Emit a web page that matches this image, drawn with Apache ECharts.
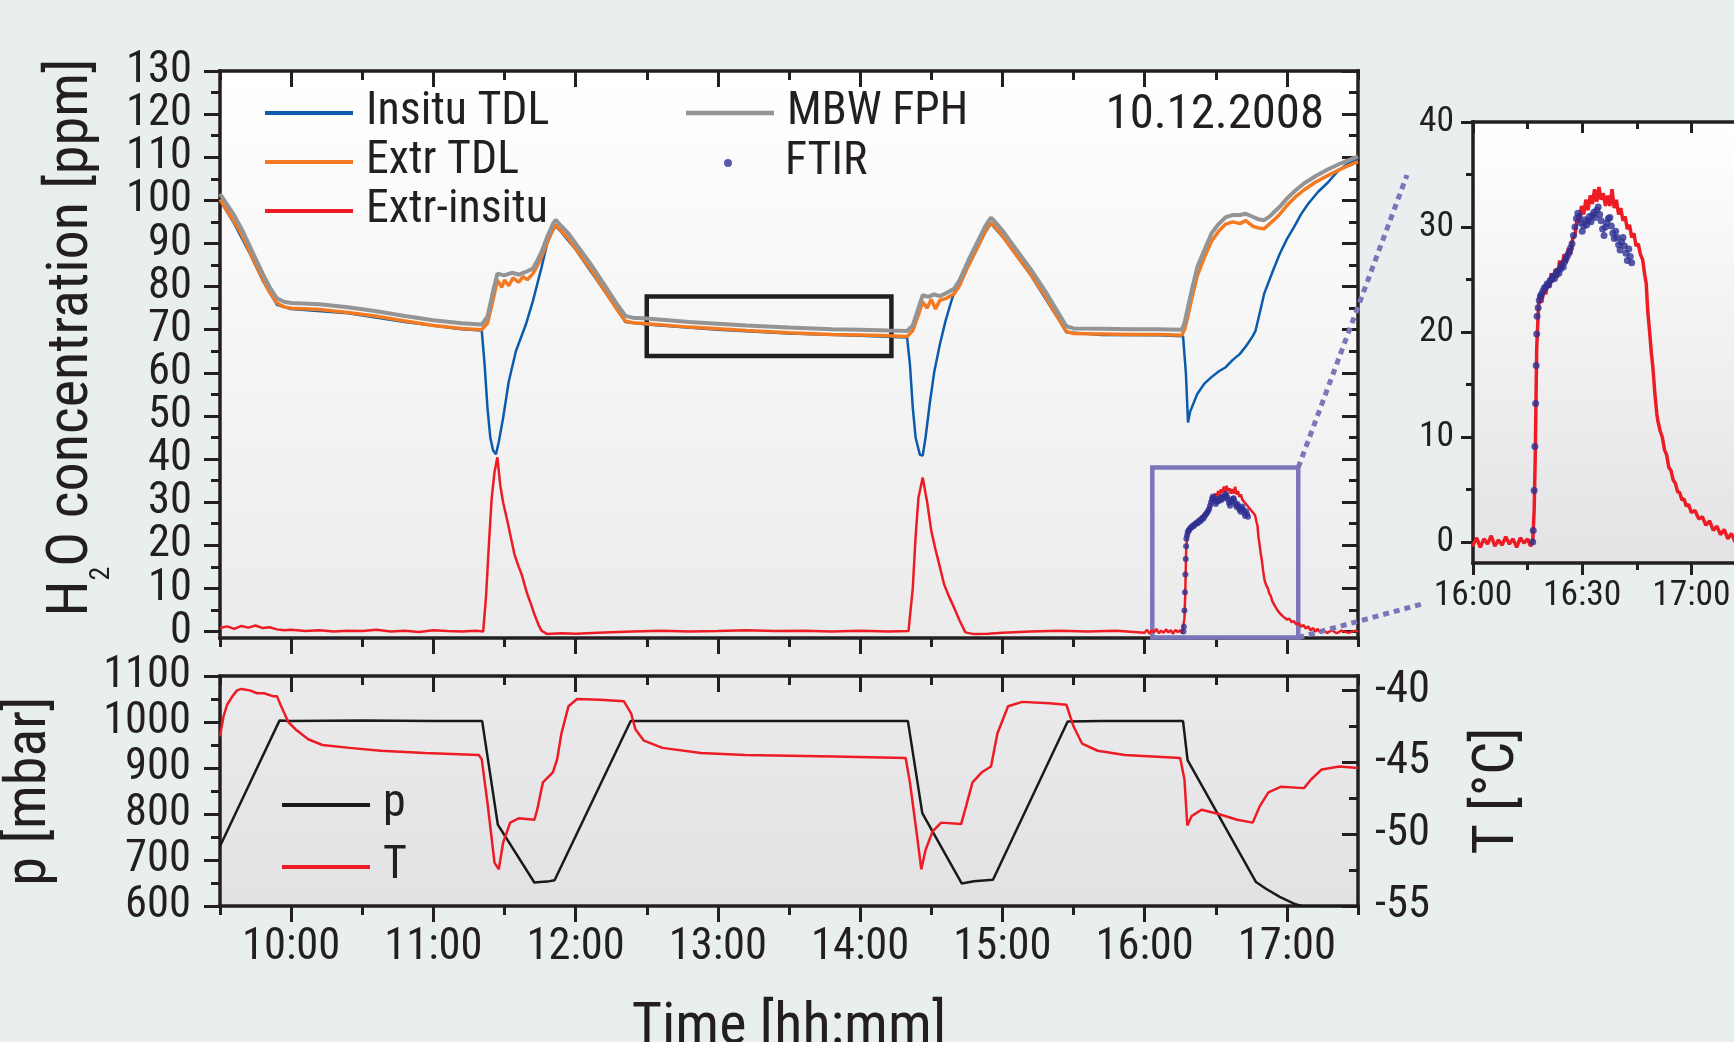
<!DOCTYPE html>
<html><head><meta charset="utf-8">
<script src="https://cdn.jsdelivr.net/npm/echarts@6/dist/echarts.min.js"></script>
<style>html,body{margin:0;padding:0;background:#e9efee;}#c{width:1734px;height:1042px;}</style>
</head><body><div id="c"></div>
<script>
// ---------------- DATA (time in decimal hours) ----------------
const insituTDL = [[9.5,100.0],[9.6,94.6],[9.7,88.3],[9.8,81.4],[9.9,75.8],[10.0,74.8],[10.4,73.8],[10.8,71.8],[11.2,70.1],[11.34,69.8],[11.36,62],[11.38,52],[11.40,45],[11.42,42],[11.44,41.1],[11.46,44],[11.49,49.5],[11.53,58],[11.58,65],[11.65,71.2],[11.70,76.7],[11.76,84.4],[11.8,90.0],[11.84,93.0],[11.86,94.0],[11.9,92.6],[12.0,88.6],[12.2,79.1],[12.35,71.8],[12.5,71.2],[13.0,70.0],[13.5,69.1],[14.0,68.6],[14.33,68.2],[14.35,62],[14.37,52],[14.39,45],[14.42,41],[14.44,40.8],[14.46,45],[14.49,53],[14.52,60],[14.56,66.5],[14.6,72],[14.64,76.5],[14.68,80.5],[14.72,83],[14.76,84.6],[14.82,88.6],[14.88,92.6],[14.92,94.6],[15.0,91.6],[15.2,82.6],[15.4,72.1],[15.45,69.4],[15.7,68.8],[16.1,68.7],[16.27,68.5],[16.29,60],[16.305,48.5],[16.32,51],[16.37,55.1],[16.42,57.5],[16.47,59.0],[16.52,60.3],[16.57,61.3],[16.62,63.0],[16.67,64.4],[16.72,66.5],[16.76,68.5],[16.78,69.8],[16.81,74],[16.84,78.3],[16.9,83.5],[16.95,87.6],[17.0,91.0],[17.05,93.8],[17.1,96.8],[17.15,99.2],[17.22,102],[17.29,104.2],[17.35,106.5],[17.42,108.3],[17.5,109.6]];

const extrTDL = [[9.5,100.2],[9.55,97.6],[9.6,95.0],[9.65,92.2],[9.7,88.7],[9.75,85.2],[9.8,81.8],[9.85,78.6],[9.9,76.2],[9.95,75.3],[10.0,75.0],[10.2,74.7],[10.4,74.0],[10.6,73.1],[10.8,72.0],[11.0,71.0],[11.2,70.3],[11.34,70.0],[11.38,71.5],[11.42,77],[11.45,81.5],[11.48,79.8],[11.5,81.5],[11.53,80.2],[11.56,82.0],[11.6,81.0],[11.63,82.3],[11.66,81.6],[11.7,83.0],[11.73,84.8],[11.76,86.8],[11.8,90.3],[11.84,93.3],[11.86,94.3],[11.9,92.8],[11.95,91.1],[12.0,88.8],[12.1,84.3],[12.2,79.3],[12.3,74.3],[12.35,72.0],[12.4,71.6],[12.5,71.4],[12.8,70.6],[13.0,70.2],[13.2,69.8],[13.5,69.3],[13.8,68.9],[14.0,68.8],[14.2,68.6],[14.33,68.4],[14.37,69.8],[14.41,73.5],[14.44,76.5],[14.47,75.0],[14.5,77.0],[14.53,74.8],[14.56,76.8],[14.6,77.2],[14.66,78.3],[14.7,80.3],[14.76,84.8],[14.82,88.8],[14.88,92.8],[14.92,94.8],[14.95,93.8],[15.0,91.8],[15.1,87.3],[15.2,82.8],[15.3,77.8],[15.4,72.3],[15.45,69.6],[15.5,69.1],[15.7,69.0],[15.9,68.9],[16.1,68.9],[16.26,68.7],[16.28,70.0],[16.30,72.5],[16.33,77.0],[16.37,82.5],[16.42,86.8],[16.47,90.5],[16.52,92.8],[16.57,94.5],[16.62,95.0],[16.67,94.6],[16.71,95.3],[16.76,94.0],[16.8,93.6],[16.84,93.4],[16.88,94.6],[16.92,95.8],[16.95,96.8],[17.0,98.8],[17.06,100.8],[17.12,102.4],[17.2,104.2],[17.29,105.8],[17.38,107.3],[17.45,108.3],[17.5,109.0]];

const mbwFPH = [[9.5,101.5],[9.55,99],[9.6,96.5],[9.65,93.5],[9.7,90],[9.75,86.5],[9.8,83],[9.85,79.8],[9.9,77.3],[9.95,76.5],[10.0,76.2],[10.2,75.9],[10.4,75.2],[10.6,74.3],[10.8,73.2],[11.0,72.2],[11.2,71.5],[11.34,71.2],[11.38,73],[11.42,79],[11.45,83],[11.5,82.6],[11.55,83.2],[11.6,82.8],[11.65,83.4],[11.7,84.2],[11.73,86],[11.76,88],[11.8,91.5],[11.84,94.5],[11.86,95.5],[11.9,94],[11.95,92.3],[12.0,90],[12.1,85.5],[12.2,80.5],[12.3,75.5],[12.35,73.2],[12.4,72.8],[12.5,72.6],[12.8,71.8],[13.0,71.4],[13.2,71.0],[13.5,70.5],[13.8,70.1],[14.0,70.0],[14.2,69.8],[14.33,69.7],[14.37,71],[14.41,75],[14.44,78],[14.48,77.6],[14.52,78.2],[14.56,77.8],[14.6,78.4],[14.66,79.5],[14.7,81.5],[14.76,86],[14.82,90],[14.88,94],[14.92,96],[14.95,95],[15.0,93],[15.1,88.5],[15.2,84],[15.3,79],[15.4,73.5],[15.45,70.8],[15.5,70.3],[15.7,70.2],[15.9,70.1],[16.1,70.1],[16.26,70.0],[16.28,71.5],[16.30,74.5],[16.33,79],[16.37,84.5],[16.42,88.5],[16.47,92.3],[16.52,94.5],[16.57,96.1],[16.62,96.6],[16.67,96.6],[16.71,96.9],[16.76,96.2],[16.8,95.6],[16.84,95.4],[16.88,96.3],[16.92,97.6],[16.95,98.5],[17.0,100.4],[17.06,102.3],[17.12,103.9],[17.2,105.6],[17.29,107.2],[17.38,108.6],[17.45,109.5],[17.5,110.2]];

// Extr-insitu before 16:00 (hours)
const extrInsituDay = [[9.5,0.8],[9.55,1.2],[9.6,0.6],[9.65,1.3],[9.7,0.9],[9.75,1.4],[9.8,0.8],[9.85,1.0],[9.9,0.5],[9.95,0.3],[10.0,0.4],[10.1,0.1],[10.2,0.3],[10.3,0.0],[10.4,0.2],[10.5,0.1],[10.6,0.4],[10.7,0.0],[10.8,0.2],[10.9,-0.1],[11.0,0.3],[11.1,0.1],[11.2,0.0],[11.3,0.2],[11.35,0.0],[11.37,8],[11.39,20],[11.41,31],[11.43,37],[11.45,40.4],[11.47,34],[11.49,30],[11.52,25.7],[11.55,21],[11.57,17.9],[11.6,15],[11.62,13.3],[11.64,11],[11.66,8.7],[11.69,6],[11.71,4.0],[11.74,1.5],[11.76,0.2],[11.8,-0.6],[11.9,-0.4],[12.0,-0.5],[12.2,-0.2],[12.4,0.0],[12.6,0.2],[12.8,0.0],[13.0,0.1],[13.2,0.3],[13.4,0.1],[13.6,0.2],[13.8,0.0],[14.0,0.2],[14.2,0.0],[14.34,0.1],[14.37,10],[14.39,22],[14.41,31],[14.44,35.7],[14.46,32],[14.47,30.3],[14.5,23.4],[14.53,19],[14.55,16.4],[14.59,11],[14.62,8.5],[14.65,6.3],[14.7,2.5],[14.74,-0.2],[14.8,-0.6],[14.9,-0.5],[15.0,-0.3],[15.2,0.0],[15.4,0.2],[15.6,0.0],[15.8,0.2]];
// Extr-insitu after 16:00 (minutes after 16:00)
const extrInsituLateMin = [[0,-0.3],[1,0.4],[2,-0.5],[3,0.3],[4,-0.2],[5,0.6],[6,-0.4],[7,0.2],[8,-0.3],[9,0.5],[10,-0.2],[11,0.3],[12,-0.5],[13,0.4],[14,-0.1],[15,0.3],[15.8,-0.4],[16.4,0.0],[16.8,3.0],[17.1,8.1],[17.5,18.4],[18.0,22.5],[18.5,23.6],[18.9,22.8],[19.5,24.2],[20,23.6],[20.5,24.8],[21,24.2],[21.5,25.6],[22,24.8],[22.6,26.0],[23.2,25.2],[23.8,26.8],[24.4,25.9],[25,27.4],[25.6,26.6],[26.2,28.0],[26.8,27.4],[27.4,28.9],[28,29.2],[28.6,30.8],[29.2,30.4],[29.8,32.0],[30.4,31.2],[31,32.6],[31.6,31.6],[32.2,33.0],[32.8,32.2],[33.4,33.6],[34,32.4],[34.6,33.8],[35.2,32.6],[35.8,33.2],[36.4,32.0],[37,33.0],[37.6,32.0],[38.2,33.6],[38.8,31.8],[39.4,32.6],[40,31.2],[40.6,31.8],[41.2,30.6],[41.8,31.0],[42.4,29.8],[43,30.2],[43.6,29.0],[44.2,29.4],[44.8,28.2],[45.4,28.4],[46,27.4],[46.6,26.9],[47.2,25.4],[47.6,24.6],[48.0,22.0],[48.5,20.1],[49.0,18.0],[49.4,16.7],[50.0,14.0],[50.5,12.2],[50.8,11.5],[51.4,10.6],[52.0,10.0],[52.6,8.8],[53.2,8.3],[53.8,7.1],[54.4,6.8],[55,5.9],[55.6,5.6],[56.2,4.8],[56.8,4.7],[57.4,4.0],[58,4.1],[58.6,3.4],[59.2,3.6],[60,2.8],[61,3.0],[62,2.2],[63,2.4],[64,1.6],[65,2.0],[66,1.1],[67,1.5],[68,0.7],[69,1.2],[70,0.3],[71,0.8],[72,0.0],[73,0.6],[74,-0.2],[75,0.4],[77,-0.3],[79,0.3],[81,-0.4],[83,0.2],[86,-0.3],[89,0.2],[90,0.0]];

// FTIR (minutes after 16:00)
const ftirMin = [[16.4,0.0],[16.55,1.1],[16.8,4.9],[17.0,9.1],[17.2,13.2],[17.35,16.8],[17.5,19.8],[17.6,21.5],[17.9,22.3],[18.2,23.0],[18.5,23.4],[18.8,23.6],[19.2,23.9],[19.6,24.2],[20.0,24.3],[20.4,24.6],[20.8,24.5],[21.2,24.9],[21.6,25.0],[22.0,25.3],[22.4,25.1],[22.8,25.5],[23.2,25.8],[23.6,25.6],[24.0,26.0],[24.4,26.4],[24.8,26.2],[25.2,26.7],[25.6,27.0],[26.0,27.3],[26.4,27.6],[26.8,28.0],[27.2,28.4],[27.6,29.2],[28.0,30.0],[28.4,30.8],[28.8,31.3],[29.2,31.0],[29.6,30.4],[30.0,29.6],[30.4,30.1],[30.8,30.7],[31.2,30.2],[31.6,30.6],[32.0,31.0],[32.4,30.5],[32.8,31.1],[33.2,31.4],[33.6,30.9],[34.0,31.6],[34.4,31.9],[34.8,31.2],[35.2,30.6],[35.6,29.8],[36.0,29.2],[36.4,30.0],[36.8,30.4],[37.2,30.8],[37.6,30.9],[38.0,30.1],[38.4,29.4],[38.8,28.9],[39.2,29.6],[39.6,29.0],[40.0,28.3],[40.4,27.8],[40.8,28.6],[41.2,29.0],[41.6,28.2],[42.0,27.5],[42.4,26.8],[42.8,27.9],[43.2,27.2],[43.6,26.6]];

// pressure [mbar] and temperature [°C]
const pressure = [[9.5,730],[9.918,1003],[10.0,1002],[10.5,1003],[11.0,1002],[11.343,1002],[11.453,777],[11.71,651],[11.75,652],[11.8,653],[11.852,656],[12.387,1002],[13.0,1002],[13.5,1002],[14.0,1002],[14.336,1002],[14.437,802],[14.714,649],[14.8,654],[14.934,657],[15.459,1001],[15.7,1002],[16.0,1002],[16.27,1002],[16.302,917],[16.783,652],[16.85,638],[16.95,620],[17.05,605],[17.104,600],[17.3,599],[17.5,599]];
const temperature = [[9.5,-43.2],[9.525,-41.8],[9.55,-41.0],[9.588,-40.4],[9.62,-40.0],[9.65,-39.9],[9.71,-40.0],[9.76,-40.2],[9.81,-40.2],[9.87,-40.4],[9.90,-40.4],[9.93,-41.1],[9.98,-42.2],[10.03,-42.7],[10.12,-43.4],[10.22,-43.8],[10.41,-44.0],[10.63,-44.2],[10.94,-44.35],[11.32,-44.5],[11.34,-44.8],[11.38,-47.8],[11.43,-52.0],[11.46,-52.45],[11.49,-50.6],[11.54,-49.2],[11.6,-48.9],[11.71,-49.0],[11.73,-48.3],[11.77,-46.4],[11.84,-45.7],[11.87,-44.8],[11.9,-43.0],[11.95,-41.1],[12.01,-40.6],[12.17,-40.65],[12.34,-40.76],[12.39,-41.6],[12.42,-42.7],[12.48,-43.5],[12.61,-44.0],[12.88,-44.35],[13.19,-44.5],[13.82,-44.6],[14.32,-44.7],[14.35,-46.4],[14.40,-50.1],[14.43,-52.45],[14.46,-51.1],[14.51,-49.8],[14.57,-49.2],[14.71,-49.3],[14.745,-48.05],[14.79,-46.4],[14.855,-45.7],[14.92,-45.3],[14.965,-43.0],[15.04,-41.1],[15.14,-40.8],[15.33,-40.9],[15.45,-41.0],[15.50,-42.5],[15.56,-43.7],[15.67,-44.2],[15.86,-44.5],[16.25,-44.7],[16.28,-46.2],[16.30,-49.4],[16.33,-48.75],[16.40,-48.3],[16.52,-48.6],[16.65,-49.0],[16.76,-49.2],[16.81,-48.05],[16.87,-47.1],[16.96,-46.7],[17.12,-46.8],[17.17,-46.2],[17.245,-45.5],[17.37,-45.3],[17.5,-45.4]];

// highlighted boxes [time, ppm]
const detailBox = [[12.5,77.7],[14.22,63.9]];
const zoomBox = [[16.054,38.05],[17.08,-1.4]];

// tick values
const hourTicks = [10,11,12,13,14,15,16,17];
const halfHourTicks = [9.5,10.5,11.5,12.5,13.5,14.5,15.5,16.5,17.5];
const ppmTicks = [0,10,20,30,40,50,60,70,80,90,100,110,120,130];
const ppmMinorTicks = [5,15,25,35,45,55,65,75,85,95,105,115,125];
const tempTicks = [-55,-50,-45,-40];
const tempMinorTicks = [-52.5,-47.5,-42.5];
const insetTimeTicks = [16,16.5,17];
const insetTimeMinor = [16.25,16.75];
const insetPpmTicks = [0,10,20,30,40];
const insetPpmMinor = [5,15,25,35];

// ---------------- FONT PICK: a regular-weight condensed sans if one exists ----------------
const SAMPLE = '10:00 130 Insitu TDL concentration';
const cv = document.createElement('canvas'); cv.width = 1400; cv.height = 90;
const cx = cv.getContext('2d');
const fstr = (c, s, fb) => `${c.pre ? c.pre + ' ' : ''}${s}px '${c.fam}'${fb ? ', ' + fb : ''}`;
function mw(font){ cx.font = font; return cx.measureText(SAMPLE).width; }
function ink(font){
  cx.clearRect(0,0,1400,90); cx.font = font; cx.fillStyle = '#000'; cx.fillText(SAMPLE, 5, 60);
  const d = cx.getImageData(0,0,1400,90).data; let s = 0; for (let i = 3; i < d.length; i += 4) s += d[i]; return s;
}
const LIB = {fam:'Liberation Sans', pre:''};
const baseW = mw(fstr(LIB,40)), baseInk = ink(fstr(LIB,40));
let PICK = LIB, ratio = 1, err = 0.16;
[{fam:'Liberation Sans Narrow',pre:''},{fam:'Arial Narrow',pre:''},{fam:'Nimbus Sans Narrow',pre:''},
 {fam:'Open Sans',pre:'condensed'},{fam:'Noto Sans',pre:'condensed'},{fam:'Noto Sans',pre:'semi-condensed'},
 {fam:'Roboto',pre:'condensed'},{fam:'Noto Sans Condensed',pre:''},{fam:'Noto Sans SemiCondensed',pre:''},
 {fam:'Roboto Condensed',pre:''},{fam:'Open Sans Condensed',pre:''},{fam:'DejaVu Sans Condensed',pre:''}].forEach(c => {
  try {
    if (mw(fstr(c,40,'monospace')) === mw('40px monospace') || mw(fstr(c,40,'serif')) === mw('40px serif')) return;
    const r = mw(fstr(c,40)) / baseW;
    if (r > 0.96) return;
    if (ink(fstr(c,40)) / baseInk > 1.18) return;   // reject bold-only faces
    const e = Math.abs(r - 0.84);
    if (e < err) { err = e; PICK = c; ratio = r; }
  } catch (e) {}
});
const FAMILY = `'${PICK.fam}','Liberation Sans',sans-serif`;
const FSTYLE = PICK.pre || 'normal';
const K = Math.min(1.08, Math.max(0.9, 0.84 / ratio));
const fz = v => Math.round(v * K * 10) / 10;
const INK = '#231f20';
const tx = (size, extra) => Object.assign({fontFamily:FAMILY, fontStyle:FSTYLE, fontWeight:'normal', fontSize:size, color:INK}, extra || {});

// ---------------- CHART ----------------
const C_BLUE = '#0a5bab', C_ORANGE = '#f37a21', C_GRAY = '#949494', C_RED = '#ed1c24', C_NAVY = '#2e3192', C_PURPLE = '#7b75b9';
const TICK_FS = fz(47), NAME_FS = fz(61.5), LEG_FS = fz(48.5), INSET_FS = fz(37.5), DATE_FS = fz(51.5);

const fromMin = arr => arr.map(d => [16 + d[0] / 60, d[1]]);
const extrInsitu = extrInsituDay.concat(fromMin(extrInsituLateMin));
const ftir = fromMin(ftirMin);
const fmtTime = v => { const h = Math.floor(v + 1e-9); const m = Math.round((v - h) * 60); return h + ':' + (m < 10 ? '0' : '') + m; };
const fmtNum = v => String(v);
// the dense ppm labels are split over two stacked axes so that none is dropped by overlap handling
const ppmLabelsA = ppmTicks.filter((v, i) => i % 2 === 0);
const ppmLabelsB = ppmTicks.filter((v, i) => i % 2 === 1);

function ax(o) {
  return {
    gridIndex: o.grid, type: 'value', position: o.pos, min: o.min, max: o.max, silent: true,
    axisLine: {show: !!o.line, onZero: false, lineStyle: {color: INK, width: 3.5, cap: 'square'}},
    axisTick: {show: true, inside: !!o.inside, length: o.len, customValues: o.ticks, lineStyle: {color: INK, width: 3}},
    axisLabel: o.labels ? tx(o.fs, {show: true, customValues: o.labels, margin: o.margin,
                           formatter: o.fmt || fmtNum, showMinLabel: true, showMaxLabel: true, hideOverlap: false}) : {show: false},
    splitLine: {show: false}, axisPointer: {show: false}
  };
}

const A = NAME_FS;
const xAxes = [
  ax({grid:0,pos:'bottom',min:9.5,max:17.5,ticks:hourTicks,len:16,line:true}),
  ax({grid:0,pos:'bottom',min:9.5,max:17.5,ticks:halfHourTicks,len:9}),
  ax({grid:0,pos:'top',min:9.5,max:17.5,ticks:hourTicks,len:16,inside:true,line:true}),
  ax({grid:0,pos:'top',min:9.5,max:17.5,ticks:halfHourTicks,len:9,inside:true}),
  Object.assign(ax({grid:1,pos:'bottom',min:9.5,max:17.5,ticks:hourTicks,len:16,line:true,labels:hourTicks,margin:19,fs:TICK_FS,fmt:fmtTime}),
    {name:'Time [hh:mm]',nameLocation:'middle',nameGap:Math.round(101 - 0.13 * A),nameMoveOverlap:false,nameTextStyle:tx(A)}),
  ax({grid:1,pos:'bottom',min:9.5,max:17.5,ticks:halfHourTicks,len:9}),
  ax({grid:1,pos:'top',min:9.5,max:17.5,ticks:hourTicks,len:16,inside:true,line:true}),
  ax({grid:1,pos:'top',min:9.5,max:17.5,ticks:halfHourTicks,len:9,inside:true}),
  ax({grid:2,pos:'bottom',min:16,max:17.25,ticks:insetTimeTicks,len:12,line:true,labels:insetTimeTicks,margin:15,fs:INSET_FS,fmt:fmtTime}),
  ax({grid:2,pos:'bottom',min:16,max:17.25,ticks:insetTimeMinor,len:7}),
  ax({grid:2,pos:'top',min:16,max:17.25,ticks:insetTimeTicks,len:11,inside:true,line:true}),
  ax({grid:2,pos:'top',min:16,max:17.25,ticks:insetTimeMinor,len:7,inside:true})
];

const pAxis = {
  gridIndex:1, type:'value', position:'left', min:600, max:1100, interval:100, silent:true,
  axisLine:{show:true,onZero:false,lineStyle:{color:INK,width:3.5}},
  axisTick:{show:true,inside:false,length:16,lineStyle:{color:INK,width:3}},
  minorTick:{show:true,splitNumber:2,length:9,lineStyle:{color:INK,width:3}},
  axisLabel:tx(TICK_FS,{show:true,margin:29,formatter:fmtNum,showMinLabel:true,showMaxLabel:true,hideOverlap:false}),
  splitLine:{show:false}, minorSplitLine:{show:false},
  name:'p [mbar]', nameLocation:'middle', nameRotate:90, nameGap:Math.round(212 - 0.88 * A), nameMoveOverlap:false,
  nameTextStyle:tx(A)
};

const yAxes = [
  Object.assign(ax({grid:0,pos:'left',min:-1.5,max:130,ticks:ppmTicks,len:16,line:true,labels:ppmLabelsA,margin:28,fs:TICK_FS}),
    {name:'{a|H}{s|2}{a|O concentration [ppm]}',nameLocation:'middle',nameRotate:90,nameGap:Math.round(168 - 1.87 * A),nameMoveOverlap:false,
     nameTextStyle:tx(A,{padding:[0,0,0,34],
       rich:{a:tx(A,{lineHeight:A,verticalAlign:'top'}), s:tx(Math.round(A*0.48),{lineHeight:Math.round(2*A+2)})}})}),
  ax({grid:0,pos:'left',min:-1.5,max:130,ticks:ppmMinorTicks,len:9,labels:ppmLabelsB,margin:28,fs:TICK_FS}),
  ax({grid:0,pos:'right',min:-1.5,max:130,ticks:ppmTicks,len:16,inside:true,line:true}),
  ax({grid:0,pos:'right',min:-1.5,max:130,ticks:ppmMinorTicks,len:9,inside:true}),
  pAxis,
  Object.assign(ax({grid:1,pos:'right',min:-55,max:-39,ticks:tempTicks,len:16,inside:true,line:true,labels:tempTicks,margin:17,fs:TICK_FS}),
    {name:'T [°C]',nameLocation:'middle',nameRotate:90,nameGap:Math.round(119 - 0.13 * A),nameMoveOverlap:false,nameTextStyle:tx(A)}),
  ax({grid:1,pos:'right',min:-55,max:-39,ticks:tempMinorTicks,len:9,inside:true}),
  ax({grid:2,pos:'left',min:-2,max:40,ticks:insetPpmTicks,len:12,line:true,labels:insetPpmTicks,margin:19,fs:INSET_FS}),
  ax({grid:2,pos:'left',min:-2,max:40,ticks:insetPpmMinor,len:7}),
  ax({grid:2,pos:'right',min:-2,max:40,ticks:insetPpmTicks,len:12,inside:true,line:true})
];

const grad = (a, b) => ({type:'linear',x:0,y:0,x2:0,y2:1,colorStops:[{offset:0,color:a},{offset:1,color:b}]});
const lineS = (name, data, color, width, xi, yi, z) => ({
  type:'line', name, data, xAxisIndex:xi, yAxisIndex:yi, color, showSymbol:false, symbol:'none', z: z || 2,
  lineStyle:{color, width}, itemStyle:{color}, silent:true, animation:false
});
const legendText = (lh) => tx(LEG_FS, {lineHeight:lh, padding:[0,0,0,8]});
const boxStyle = c => ({color:'rgba(0,0,0,0)',borderColor:c,borderWidth:4.5});

const option = {
  backgroundColor:'#e9efee',
  animation:false,
  title:{text:'10.12.2008',right:410,top:Math.round(115 - DATE_FS/2),padding:0,textStyle:tx(DATE_FS)},
  grid:[
    {left:220,top:71,width:1138,height:567,show:true,borderWidth:0,backgroundColor:grad('#ffffff','#ebebec'),outerBoundsMode:'none',containLabel:false},
    {left:220,top:676,width:1138,height:230,show:true,borderWidth:0,backgroundColor:grad('#ebebed','#e2e2e4'),outerBoundsMode:'none',containLabel:false},
    {left:1473,top:122,width:273,height:441,show:true,borderWidth:0,backgroundColor:grad('#ffffff','#e3e3e5'),outerBoundsMode:'none',containLabel:false}
  ],
  xAxis:xAxes,
  yAxis:yAxes,
  legend:[
    {data:[{name:'Insitu TDL',icon:'rect'},{name:'Extr TDL',icon:'rect'},{name:'Extr-insitu',icon:'rect'}],orient:'vertical',left:265,top:89,padding:0,itemWidth:88,itemHeight:4,itemGap:1,selectedMode:false,textStyle:legendText(48)},
    {data:[{name:'MBW FPH',icon:'rect'}],orient:'vertical',left:686,top:89,padding:0,itemWidth:88,itemHeight:4.5,selectedMode:false,textStyle:legendText(48)},
    {data:[{name:'FTIR',icon:'circle'}],orient:'vertical',left:724,top:139,padding:0,itemWidth:88,itemHeight:8,selectedMode:false,textStyle:legendText(48)},
    {data:[{name:'p',icon:'rect'},{name:'T',icon:'rect'}],orient:'vertical',left:282,top:774,padding:0,itemWidth:88,itemHeight:4,itemGap:0,selectedMode:false,textStyle:legendText(62)}
  ],
  series:[
    lineS('Insitu TDL', insituTDL, C_BLUE, 2.5, 0, 0, 2),
    lineS('Extr TDL', extrTDL, C_ORANGE, 3.5, 0, 0, 3),
    lineS('MBW FPH', mbwFPH, C_GRAY, 4, 0, 0, 4),
    Object.assign(lineS('Extr-insitu', extrInsitu, C_RED, 2.5, 0, 0, 5), {
      markArea:{silent:true,label:{show:false},itemStyle:{color:'rgba(0,0,0,0)',borderWidth:4.5},
        data:[
          [{coord:detailBox[0],itemStyle:boxStyle(INK)},{coord:detailBox[1],itemStyle:boxStyle(INK)}],
          [{coord:zoomBox[0],itemStyle:boxStyle(C_PURPLE)},{coord:zoomBox[1],itemStyle:boxStyle(C_PURPLE)}]
        ]}
    }),
    {type:'scatter',name:'FTIR',data:ftir,xAxisIndex:0,yAxisIndex:0,symbolSize:6,color:C_NAVY,itemStyle:{color:C_NAVY},z:6,silent:true},
    lineS('p', pressure, '#1a1a1a', 2.5, 4, 4, 2),
    lineS('T', temperature, C_RED, 2.5, 4, 5, 3),
    lineS('Extr-insitu', extrInsitu, C_RED, 3.5, 8, 7, 2),
    {type:'scatter',name:'FTIR',data:ftir,xAxisIndex:8,yAxisIndex:7,symbolSize:7,color:C_NAVY,itemStyle:{color:C_NAVY},z:6,silent:true,clip:true}
  ]
};

const chart = echarts.init(document.getElementById('c'), null, {renderer:'canvas'});
chart.setOption(option);

const pTop = chart.convertToPixel({xAxisIndex:0,yAxisIndex:0}, [zoomBox[1][0], zoomBox[0][1]]);
const pBot = chart.convertToPixel({xAxisIndex:0,yAxisIndex:0}, [zoomBox[1][0], zoomBox[1][1]]);
chart.setOption({graphic:[
  {type:'rect',shape:{x:220,y:638,width:1138,height:38},style:{fill:'#ececec'},z:-5,silent:true},
  {type:'line',shape:{x1:pTop[0],y1:pTop[1],x2:1407,y2:175},style:{stroke:C_PURPLE,lineWidth:5,lineDash:[6,5]},z:100,silent:true},
  {type:'line',shape:{x1:pBot[0],y1:pBot[1],x2:1422,y2:604},style:{stroke:C_PURPLE,lineWidth:5,lineDash:[6,5]},z:100,silent:true}
]});
</script></body></html>
